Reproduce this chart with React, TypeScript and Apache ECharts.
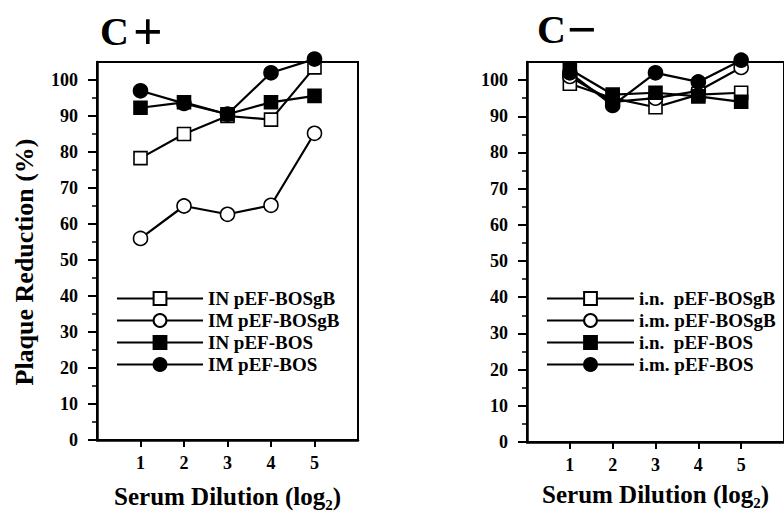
import React, { useEffect, useRef } from 'react';
import * as echarts from 'echarts';

const FONT = '"Liberation Serif", "Times New Roman", Times, serif';

// Shared x categories (serum dilution, log2)
const xValues = [1, 2, 3, 4, 5];
const yTicks = [0, 10, 20, 30, 40, 50, 60, 70, 80, 90, 100];

// C+ panel
const cPlusNames = ['IN pEF-BOSgB', 'IM pEF-BOSgB', 'IN pEF-BOS', 'IM pEF-BOS'];
const cPlusINgB = [78.3, 85, 90, 89, 103.5];
const cPlusIMgB = [56, 65, 62.7, 65.2, 85.2];
const cPlusINBos = [92.3, 93.8, 90.5, 93.8, 95.6];
const cPlusIMBos = [97, 93.5, 90.5, 102, 105.8];

// C− panel
const cMinusNames = ['i.n.  pEF-BOSgB', 'i.m. pEF-BOSgB', 'i.n.  pEF-BOS', 'i.m. pEF-BOS'];
const cMinusINgB = [99, 95, 92.5, 96, 96.5];
const cMinusIMgB = [101, 94, 95, 97, 103.5];
const cMinusINBos = [103, 96, 96.5, 95.5, 94];
const cMinusIMBos = [102, 93, 102, 99.5, 105.5];

const symbols = ['rect', 'circle', 'rect', 'circle'];
const filled = [false, false, true, true];

function mkSeries(name: string, values: number[], idx: number, gridIdx: number) {
  return {
    type: 'line',
    name,
    xAxisIndex: gridIdx,
    yAxisIndex: gridIdx,
    data: xValues.map((x, i) => [x, values[i]]),
    symbol: symbols[idx],
    symbolSize: idx % 2 === 0 ? 13 : 14,
    showSymbol: true,
    clip: false,
    lineStyle: { color: '#000', width: 2.2 },
    itemStyle: {
      color: filled[idx] ? '#000' : '#fff',
      borderColor: '#000',
      borderWidth: 1.6,
    },
    emphasis: { disabled: true },
    z: 2 + idx,
  };
}

function mkXAxis(gridIndex: number, nameGap: number) {
  return {
    type: 'value',
    gridIndex,
    min: 0,
    max: 6,
    interval: 1,
    name: 'Serum Dilution (log₂)',
    nameLocation: 'middle',
    nameGap,
    nameTextStyle: { fontFamily: FONT, fontWeight: 'bold', fontSize: 25, color: '#000' },
    axisLine: { show: true, onZero: false, lineStyle: { color: '#000', width: 2.5 } },
    axisTick: { show: true, length: 7, customValues: xValues, lineStyle: { color: '#000', width: 2 } },
    axisLabel: {
      customValues: xValues,
      margin: 14,
      fontFamily: FONT,
      fontWeight: 'bold',
      fontSize: 18,
      color: '#000',
    },
    splitLine: { show: false },
  };
}

function mkYAxis(gridIndex: number) {
  return {
    type: 'value',
    gridIndex,
    min: 0,
    max: 105,
    interval: 10,
    axisLine: { show: true, onZero: false, lineStyle: { color: '#000', width: 2.5 } },
    axisTick: { show: true, length: 9, customValues: yTicks, lineStyle: { color: '#000', width: 2 } },
    minorTick: { show: true, splitNumber: 2, length: 5, lineStyle: { color: '#000', width: 1.5 } },
    axisLabel: {
      customValues: yTicks,
      margin: 19,
      fontFamily: FONT,
      fontWeight: 'bold',
      fontSize: 18,
      color: '#000',
    },
    splitLine: { show: false },
    minorSplitLine: { show: false },
  };
}

function mkLegend(names: string[], left: number, itemWidth: number) {
  return {
    data: names,
    orient: 'vertical',
    left,
    top: 289,
    padding: 0,
    itemWidth,
    itemHeight: 16,
    itemGap: 3,
    selectedMode: false,
    textStyle: { fontFamily: FONT, fontWeight: 'bold', fontSize: 19, color: '#000' },
  };
}

export default function App() {
  const ref = useRef<HTMLDivElement>(null);
  useEffect(() => {
    const chart = echarts.init(ref.current!, null, { renderer: 'svg' });
    const option = {
      animation: false,
      backgroundColor: '#fff',
      grid: [
        { left: 97, top: 62, width: 261, height: 378, show: true, borderColor: '#000', borderWidth: 2 },
        { left: 527, top: 62, width: 260, height: 380, show: true, borderColor: '#000', borderWidth: 2 },
      ],
      xAxis: [mkXAxis(0, 44), mkXAxis(1, 40)],
      yAxis: [mkYAxis(0), mkYAxis(1)],
      legend: [mkLegend(cPlusNames, 116, 86), mkLegend(cMinusNames, 546, 87)],
      graphic: [
        { type: 'text', x: 100, y: 11, style: { text: 'C', fontFamily: FONT, fontWeight: 'bold', fontSize: 40, fill: '#000' } },
        { type: 'text', x: 133, y: 5, style: { text: '+', fontFamily: FONT, fontWeight: 'bold', fontSize: 52, fill: '#000' } },
        { type: 'text', x: 537, y: 9, style: { text: 'C', fontFamily: FONT, fontWeight: 'bold', fontSize: 40, fill: '#000' } },
        { type: 'text', x: 567, y: 3, style: { text: '−', fontFamily: FONT, fontWeight: 'bold', fontSize: 52, fill: '#000' } },
        {
          type: 'text',
          x: 24,
          y: 262,
          rotation: Math.PI / 2,
          style: {
            text: 'Plaque Reduction (%)',
            fontFamily: FONT,
            fontWeight: 'bold',
            fontSize: 26,
            fill: '#000',
            textAlign: 'center',
            textVerticalAlign: 'middle',
          },
        },
      ],
      series: [
        mkSeries(cPlusNames[0], cPlusINgB, 0, 0),
        mkSeries(cPlusNames[1], cPlusIMgB, 1, 0),
        mkSeries(cPlusNames[2], cPlusINBos, 2, 0),
        mkSeries(cPlusNames[3], cPlusIMBos, 3, 0),
        mkSeries(cMinusNames[0], cMinusINgB, 0, 1),
        mkSeries(cMinusNames[1], cMinusIMgB, 1, 1),
        mkSeries(cMinusNames[2], cMinusINBos, 2, 1),
        mkSeries(cMinusNames[3], cMinusIMBos, 3, 1),
      ],
    };
    chart.setOption(option as any);
    return () => chart.dispose();
  }, []);
  return (
    <div
      ref={ref}
      style={{ position: 'fixed', left: 0, top: 0, width: 784, height: 514, background: '#fff' }}
    />
  );
}
